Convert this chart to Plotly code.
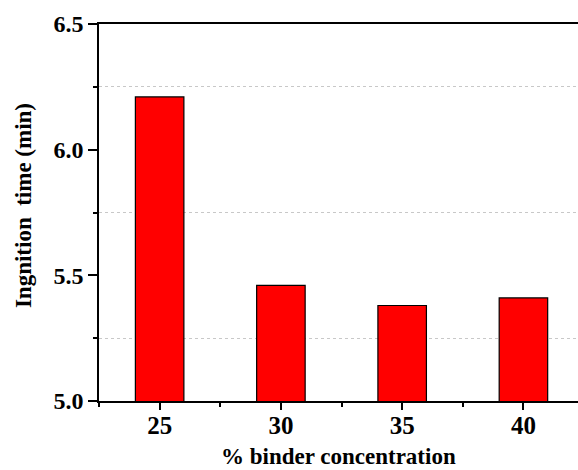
import plotly.graph_objects as go

categories = ["25", "30", "35", "40"]
ignition_time = [6.21, 5.46, 5.38, 5.41]
y_tick_vals = [5.0, 5.5, 6.0, 6.5]
y_tick_text = ["5.0", "5.5", "6.0", "6.5"]
x_title = "% binder concentration"
y_title = "Ingnition&nbsp; time (min)"

font_family = "Liberation Serif, Times New Roman, serif"

fig = go.Figure()
fig.add_trace(go.Bar(
    x=list(range(len(categories))),
    y=ignition_time,
    base=0,
    width=0.4,
    marker=dict(color="#ff0000", line=dict(color="#000000", width=1.2)),
))

fig.update_layout(
    width=578, height=470,
    margin=dict(l=99, r=0, t=24, b=69),
    paper_bgcolor="white", plot_bgcolor="white",
    showlegend=False,
    font=dict(family=font_family, color="black"),
    xaxis=dict(
        range=[-0.5, 3.45],
        automargin=False,
        tickmode="array",
        tickvals=list(range(len(categories))),
        ticktext=categories,
        ticks="outside", ticklen=7, tickwidth=1.5, tickcolor="black",
        ticklabelstandoff=-6,
        minor=dict(tickmode="array", tickvals=[-0.5, 0.5, 1.5, 2.5, 3.5],
                   ticks="outside", ticklen=4, tickwidth=1.5, tickcolor="black"),
        showline=True, linecolor="black", linewidth=1.5, mirror=True,
        showgrid=False, zeroline=False,
        tickfont=dict(size=25, family=font_family, weight="bold"),
    ),
    yaxis=dict(
        range=[5.0, 6.5],
        automargin=False,
        tickmode="array", tickvals=y_tick_vals, ticktext=y_tick_text,
        ticks="outside", ticklen=9, tickwidth=1.5, tickcolor="black",
        minor=dict(tickmode="array", tickvals=[5.25, 5.75, 6.25],
                   ticks="outside", ticklen=4, tickwidth=1.5, tickcolor="black",
                   showgrid=True, gridcolor="#c8c8c8", griddash="dot", gridwidth=1),
        showline=True, linecolor="black", linewidth=1.5, mirror=True,
        showgrid=False, zeroline=False,
        tickfont=dict(size=24, family=font_family, weight="bold"),
    ),
    annotations=[
        dict(text=x_title, xref="paper", yref="paper", x=0.5, y=0,
             xanchor="center", yanchor="bottom", yshift=-69, borderpad=0,
             showarrow=False,
             font=dict(size=23, family=font_family, weight="bold")),
        dict(text=y_title, xref="paper", yref="paper", x=0, y=0.517,
             xanchor="center", yanchor="middle", xshift=-76, textangle=-90,
             showarrow=False,
             font=dict(size=23, family=font_family, weight="bold")),
    ],
)

fig.write_html(
    "out.html",
    config={"displayModeBar": False},
    post_script="document.body.style.margin='0';document.body.style.overflow='hidden';",
)
